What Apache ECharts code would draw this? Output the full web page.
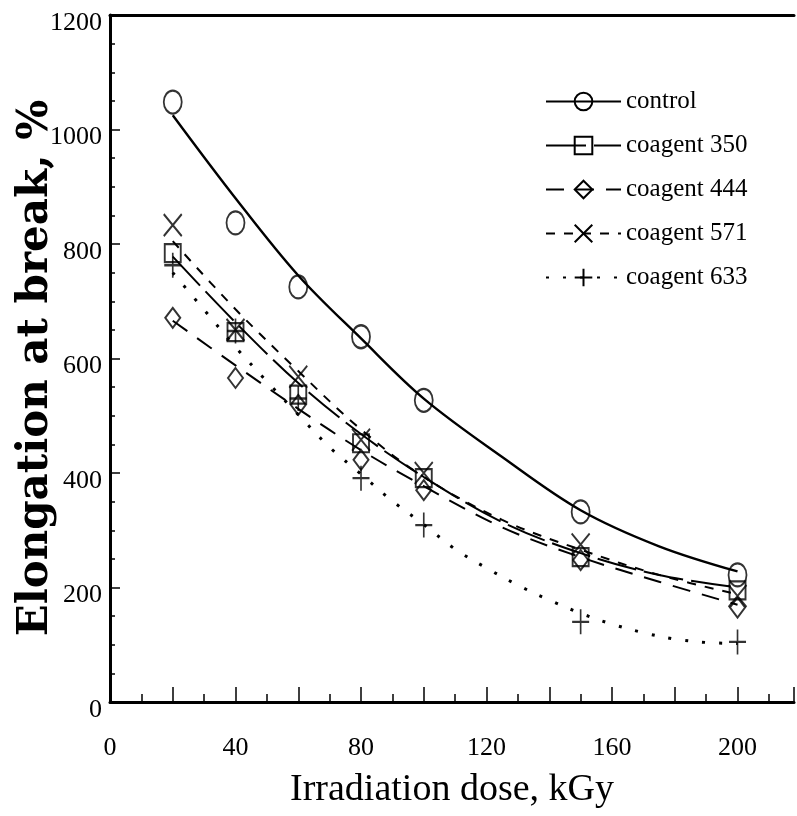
<!DOCTYPE html>
<html><head><meta charset="utf-8">
<script src="https://cdn.jsdelivr.net/npm/echarts@6/dist/echarts.min.js"></script>
<style>html,body{margin:0;padding:0;background:#fff}#c{width:797px;height:816px}</style>
</head><body><div id="c"></div>
<script>
// ---- data ----
const doses = [20, 40, 60, 80, 100, 150, 200];
const control = [1048, 837, 725, 638, 527, 332, 222];
const coagent350 = [784, 646, 537, 452, 391, 253, 195];
const coagent444 = [671, 566, 519, 423, 370, 248, 165];
const coagent571 = [833, 650, 568, 458, 400, 275, 185];
const coagent633 = [763, 648, 530, 391, 309, 140, 105];

// fitted curves
const fitDoses = [20, 40, 60, 80, 100, 125, 150, 175, 200];
const controlFit = [1025, 880, 745, 635, 530, 428, 335, 272, 228];
const fit350 = [778, 663, 557, 468, 393, 314, 260, 222, 200];
const fit444 = [666, 588, 512, 440, 377, 305, 253, 210, 170];
const fit571 = [805, 686, 578, 476, 393, 318, 266, 222, 188];
const fit633Doses = [20, 30, 40, 50, 60, 70, 80, 90, 100, 110, 120, 130, 140, 150, 160, 170, 180, 190, 200];
const fit633 = [750, 685, 620, 560, 502, 445, 398, 351, 310, 267, 234, 204, 178, 155, 136, 121, 110, 104, 102];

const seriesNames = ['control', 'coagent 350', 'coagent 444', 'coagent 571', 'coagent 633'];
const xTickLabels = [0, 40, 80, 120, 160, 200];
const yTickLabels = [0, 200, 400, 600, 800, 1000, 1200];
const xTitle = 'Irradiation dose, kGy';
const yTitle = 'Elongation at break, %';

// ---- styling ----
const pts = [control, coagent350, coagent444, coagent571, coagent633];
const fits = [[fitDoses, controlFit], [fitDoses, fit350], [fitDoses, fit444], [fitDoses, fit571], [fit633Doses, fit633]];
const symbols = ['circle', 'rect', 'diamond', 'path://M0,0L10,12M10,0L0,12', 'path://M5,0L5,12M0,6L10,6'];
const symSizes = [[18, 23], [16, 18], [15, 20], [18, 22], [17, 25]];
const lineTypes = ['solid', [40, 8], [18, 12], [9, 9], [3, 14]];
const lineWidths = [2.4, 2, 2, 2, 3];
const hollow = {color: 'rgba(0,0,0,0)', borderColor: '#000', borderWidth: 2};

const series = [];
seriesNames.forEach((n, i) => {
  series.push({
    name: n, type: 'line', smooth: 0.35, silent: true,
    symbol: symbols[i], symbolSize: symSizes[i], showSymbol: false,
    itemStyle: hollow,
    lineStyle: {color: '#000', width: lineWidths[i], type: lineTypes[i]},
    data: fits[i][0].map((x, k) => [x, fits[i][1][k]]),
    z: 2
  });
});
seriesNames.forEach((n, i) => {
  series.push({
    name: n + ' data', type: 'scatter', silent: true,
    symbol: symbols[i], symbolSize: symSizes[i],
    itemStyle: hollow,
    data: doses.map((x, k) => [x, pts[i][k]]),
    z: 3
  });
});

const chart = echarts.init(document.getElementById('c'), null, {renderer: 'canvas'});
chart.setOption({
  animation: false,
  backgroundColor: '#fff',
  grid: {left: 110, right: 0, top: 15, bottom: 114, containLabel: false},
  xAxis: [{
    type: 'value', min: 0, max: 218, interval: 20,
    axisLine: {show: true, onZero: false, lineStyle: {color: '#000', width: 3}},
    axisTick: {show: true, inside: true, length: 15, lineStyle: {color: '#000', width: 1.5}},
    minorTick: {show: true, splitNumber: 2, length: 8, lineStyle: {color: '#000', width: 1.5}},
    splitLine: {show: false},
    axisLabel: {
      margin: 33, color: '#000', fontFamily: 'Liberation Serif', fontSize: 26,
      formatter: v => xTickLabels.includes(v) ? String(v) : ''
    }
  }, {
    type: 'value', min: 0, max: 218, position: 'top',
    axisLine: {show: true, onZero: false, lineStyle: {color: '#000', width: 3}},
    axisTick: {show: false}, axisLabel: {show: false}, splitLine: {show: false}
  }],
  yAxis: {
    type: 'value', min: 0, max: 1200, interval: 200,
    axisLine: {show: true, onZero: false, lineStyle: {color: '#000', width: 3}},
    axisTick: {show: true, inside: true, length: 10, lineStyle: {color: '#000', width: 1.5}},
    minorTick: {show: true, splitNumber: 4, length: 5, lineStyle: {color: '#000', width: 1.5}},
    splitLine: {show: false},
    axisLabel: {
      margin: 8, color: '#000',
      formatter: v => yTickLabels.includes(v) ? '{a|' + v + '}' : '',
      rich: {a: {fontFamily: 'Liberation Serif', fontSize: 26, color: '#000', padding: [16, 0, 0, 0]}}
    }
  },
  legend: {
    data: seriesNames, orient: 'vertical', left: 545, top: 89,
    itemWidth: 75, itemHeight: 22, itemGap: 19, padding: 0,
    itemStyle: {color: 'rgba(0,0,0,0)', borderColor: '#000', borderWidth: 2},
    textStyle: {color: '#000', fontFamily: 'Liberation Serif', fontSize: 25},
    selectedMode: false
  },
  graphic: [
    {type: 'text', x: 452, y: 790, silent: true,
     style: {text: xTitle, fill: '#000', font: '38px "Liberation Serif"', textAlign: 'center', textVerticalAlign: 'middle'}},
    {type: 'text', x: 36, y: 368, rotation: Math.PI / 2, silent: true,
     style: {text: yTitle, fill: '#000', font: 'bold 42px "DejaVu Serif"', textAlign: 'center', textVerticalAlign: 'middle'}}
  ],
  series: series
});
</script>
</body></html>
